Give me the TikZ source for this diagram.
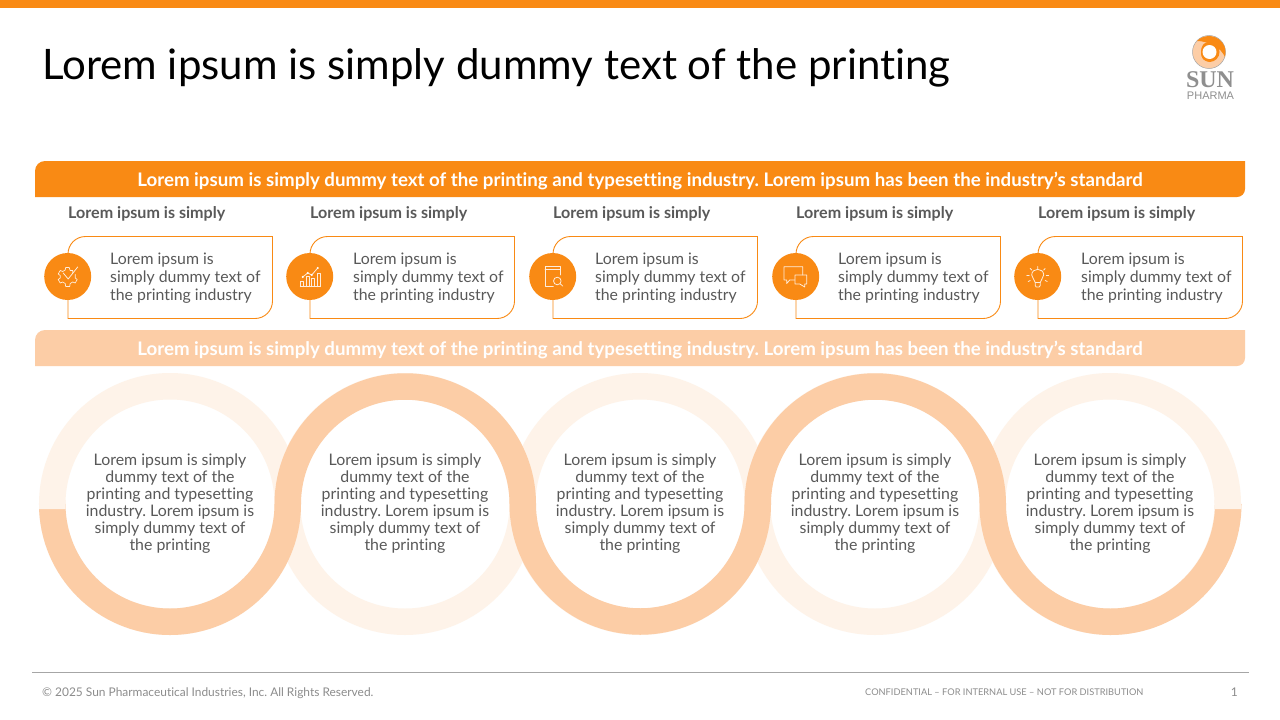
\documentclass[tikz,border=0pt]{standalone}
\usepackage{fontspec}
\setmainfont[Ligatures=NoCommon]{Lato}
\newfontfamily\logoserif{Liberation Serif}
\newfontfamily\logosans{Liberation Sans}
\frenchspacing
\definecolor{sunorange}{HTML}{F98A14}
\definecolor{sunpeach}{HTML}{FCCDA6}
\definecolor{sunpale}{HTML}{FEF3E9}
\definecolor{bodygrey}{HTML}{595959}
\definecolor{footgrey}{HTML}{8C8C8C}
\definecolor{rulegrey}{HTML}{A6A6A6}
\definecolor{logogrey}{HTML}{8F8F8F}
\tikzset{
  barlabel/.style={inner sep=0pt,text=white,font=\fontsize{18.7}{22}\selectfont\bfseries},
  headlabel/.style={anchor=west,inner sep=0pt,text=bodygrey,font=\fontsize{16.1}{18}\selectfont\bfseries},
  cardtext/.style={anchor=north west,inner sep=0pt,align=left,text=bodygrey,font=\fontsize{15.85}{18}\selectfont},
  ringtext/.style={inner sep=0pt,align=center,text=bodygrey,font=\fontsize{15.9}{17}\selectfont},
  cardline/.style={draw=sunorange,line width=0.9pt},
  badge/.style={circle,fill=sunorange,minimum size=47pt,inner sep=0pt},
  iconline/.style={draw=white!85!sunorange,line width=0.8pt,line cap=round,line join=round},
  foot/.style={inner sep=0pt,text=footgrey}
}
\begin{document}
\begin{tikzpicture}[x=1pt,y=-1pt]
\useasboundingbox (0,0) rectangle (1280,720);
\fill[white] (0,0) rectangle (1280,720);
\fill[sunorange] (0,0) rectangle (1280,8);
\node[anchor=west,inner sep=0pt,text=black,font=\fontsize{42}{46}\selectfont] (title) at (42,68) {Lorem ipsum is simply dummy text of the printing};

% logo
\fill[sunpeach] (1209,52) circle (16.5);
\draw[gray!70,line width=0.5pt] (1209,52) circle (16.5);
\fill[sunorange] (1197,41) .. controls (1203,34) and (1220,33) .. (1225,48) .. controls (1225.6,51) and (1225.6,54) .. (1225,57) .. controls (1223,53) and (1220,48) .. (1212,45) .. controls (1207,42) and (1201,41) .. (1197,41) -- cycle;
\fill[sunorange] (1209.5,52) circle (10);
\fill[sunpeach] (1198,48) .. controls (1199,44) and (1202,42) .. (1205,42) .. controls (1202,45) and (1200,50) .. (1201,55) .. controls (1202,59) and (1204,61) .. (1207,62) .. controls (1203,62) and (1199,60) .. (1198,56) -- cycle;
\fill[white] (1209.5,52) circle (7);
\node[inner sep=0pt,text=logogrey,font=\logoserif\fontsize{24}{24}\selectfont\bfseries] (logosun) at (1210,80) {SUN};
\node[inner sep=0pt,text=logogrey,font=\logosans\fontsize{11}{11}\selectfont] (logopharma) at (1210.5,96) {PHARMA};

% top bar
\fill[sunorange] (35,197) -- (35,171) arc (180:270:10) -- (1245,161) -- (1245,189) arc (0:90:8) -- cycle;
\node[barlabel] (topbar) at (640,181) {Lorem ipsum is simply dummy text of the printing and typesetting industry. Lorem ipsum has been the industry’s standard};

% cards
\foreach \i/\bx/\ex/\tx in {1/68/272.5/110,2/310/514.5/353,3/553/757.5/595,4/796/1000.5/838,5/1038/1242.5/1081}{
  \node[headlabel] (head\i) at (\bx,214) {Lorem ipsum is simply};
  \draw[cardline] (\bx,318.5) -- (\bx,254) arc (180:270:17.5) -- (\ex,236.5) -- (\ex,301) arc (0:90:17.5) -- cycle;
  \node[badge] (badge\i) at (\bx-0.3,276.5) {};
  \node[cardtext] (card\i) at (\tx,253) {Lorem ipsum is\\simply dummy text of\\the printing industry};
}

% icon 1 gear + tick
\begin{scope}[shift={(badge1.center)}]
  \draw[iconline,line width=0.7pt] (5,-4) -- (5,-6) -- (2.5,-6) -- (1.5,-9) -- (-2,-9) -- (-2.5,-6.5) -- (-5,-5) -- (-7.5,-6) -- (-9.5,-2.5) -- (-7.5,-1) -- (-7.5,1.5) -- (-9.5,3) -- (-7.5,6.5) -- (-5,5.5) -- (-2.5,7) -- (-2,10) -- (2,10) -- (2.5,7) -- (5,5.5) -- (7.5,6.5) -- (9.5,3) -- (7.5,1.5) -- (7.5,-2);
  \draw[iconline] (-4.5,-3.5) -- (0.5,2.5) -- (10,-9.5);
\end{scope}
% icon 2 chart
\begin{scope}[shift={(badge2.center)}]
  \draw[iconline] (-9.5,10.3) -- (10.7,10.3);
  \draw[iconline,line width=0.7pt] (-9.3,10.3) -- (-9.3,4.5) -- (-6.3,4.5) -- (-6.3,10.3) (-3.8,10.3) -- (-3.8,0) -- (-0.8,0) -- (-0.8,10.3) (1.7,10.3) -- (1.7,2) -- (4.7,2) -- (4.7,10.3) (7.4,10.3) -- (7.4,-3.5) -- (10.4,-3.5) -- (10.4,10.3);
  \draw[iconline] (-7,0.5) -- (-2,-3.5) -- (2,-1.5) -- (8,-8.5);
  \fill[white] (-7,0.5) circle (1.1) (-2,-3.5) circle (1.1) (2,-1.5) circle (1.1) (8,-8.5) circle (1.1);
\end{scope}
% icon 3 book + magnifier
\begin{scope}[shift={(badge3.center)}]
  \draw[iconline] (0.6,10.2) -- (-7.7,10.2) -- (-7.7,-9.8) -- (7.3,-9.8) -- (7.3,-1.5);
  \draw[iconline] (-7.7,-7.5) -- (7.3,-7.5);
  \draw[iconline] (4.6,4.5) circle (3.8);
  \draw[iconline] (7.4,7.2) -- (10,9.5);
\end{scope}
% icon 4 speech bubbles
\begin{scope}[shift={(badge4.center)}]
  \draw[iconline] (-1,3.5) -- (-6,3.5) -- (-9,7) -- (-9,3.5) -- (-11.7,3.5) -- (-11.7,-9.8) -- (7,-9.8) -- (7,-1.5);
  \draw[iconline] (-0.7,-1.5) -- (11,-1.5) -- (11,7.5) -- (9,7.5) -- (9,10.5) -- (4,7.5) -- (-0.7,7.5) -- cycle;
\end{scope}
% icon 5 bulb
\begin{scope}[shift={(badge5.center)}]
  \draw[iconline] (-2.5,6) .. controls (-2.5,3) and (-6,2) .. (-6,-1.5) .. controls (-6,-9) and (6,-9) .. (6,-1.5) .. controls (6,2) and (2.5,3) .. (2.5,6) -- cycle;
  \draw[iconline] (-2.5,6) -- (-2.5,9) -- (-1.5,10.5) -- (1.5,10.5) -- (2.5,9) -- (2.5,6);
  \draw[iconline] (0,-10) -- (0,-7.8) (-7.5,-8) -- (-5.9,-6.4) (7.5,-8) -- (5.9,-6.4) (-11,-1) -- (-8.5,-1) (11,-1) -- (8.5,-1) (-9.5,5) -- (-7.5,4) (9.5,5) -- (7.5,4);
\end{scope}

% second bar
\fill[sunpeach] (35,366) -- (35,340) arc (180:270:10) -- (1245,330) -- (1245,358) arc (0:90:8) -- cycle;
\node[barlabel] (midbar) at (640,350) {Lorem ipsum is simply dummy text of the printing and typesetting industry. Lorem ipsum has been the industry’s standard};

% rings
\foreach \c in {170,405,640,875,1110}{
  \draw[sunpale,line width=26.5pt] (\c,504) circle (117.75);
}
\draw[sunpeach,line width=26.5pt] (52.25,504) arc (180:0:117.75) arc (180:360:117.5) arc (180:0:117.5) arc (180:360:117.5) arc (180:0:117.75);
\begin{scope}
  \clip (30,500) rectangle (75,509) (1205,500) rectangle (1250,509);
  \draw[sunpale,line width=26.5pt] (170,504) circle (117.75) (1110,504) circle (117.75);
\end{scope}

\foreach \i/\c in {1/170,2/405,3/640,4/875,5/1110}{
  \node[ringtext] (ring\i) at (\c,504) {Lorem ipsum is simply\\dummy text of the\\printing and typesetting\\industry. Lorem ipsum is\\simply dummy text of\\the printing};
}

% footer
\draw[rulegrey,line width=0.9pt] (32,672.5) -- (1249,672.5);
\node[foot,anchor=west,font=\fontsize{11.93}{14}\selectfont] (copy) at (42,693) {© 2025 Sun Pharmaceutical Industries, Inc. All Rights Reserved.};
\node[foot,anchor=west,font=\fontsize{9.25}{12}\selectfont] (conf) at (865,692) {CONFIDENTIAL – FOR INTERNAL USE – NOT FOR DISTRIBUTION};
\node[foot,anchor=east,font=\fontsize{12}{14}\selectfont] (pageno) at (1238,692.5) {1};
\end{tikzpicture}
\end{document}
